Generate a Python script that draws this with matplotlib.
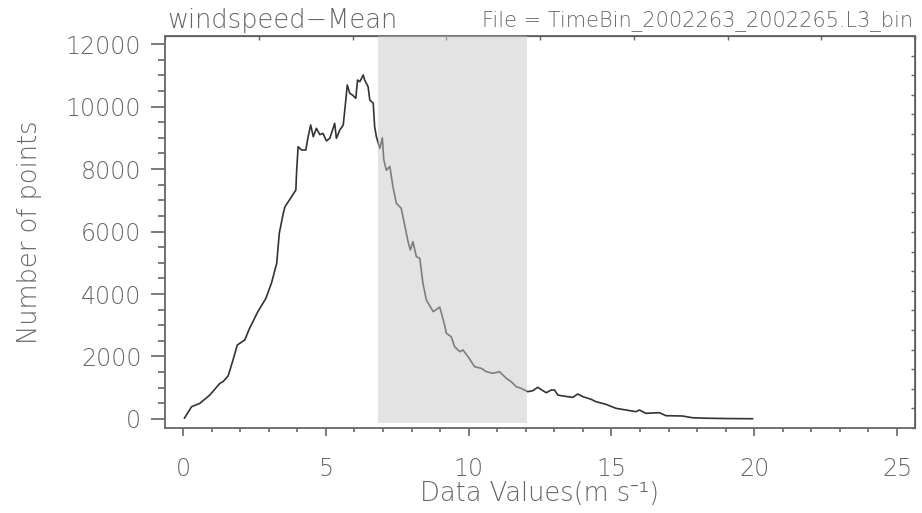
"""Histograma de windspeed-Mean (TimeBin_2002263_2002265.L3_bin)"""
import numpy as np
import matplotlib
matplotlib.use('Agg')
import matplotlib.pyplot as plt
from matplotlib.ticker import MultipleLocator

# valores
wind = [0.05, 0.30, 0.59, 0.94, 1.29, 1.40, 1.58, 1.75, 1.90, 2.16,
        2.33, 2.62, 2.90, 3.10, 3.28, 3.37, 3.51, 3.57, 3.80, 3.95,
        3.98, 4.03, 4.15, 4.30, 4.38, 4.47, 4.56, 4.67, 4.79, 4.90,
        5.02, 5.14, 5.31, 5.37, 5.49, 5.61, 5.70, 5.75, 5.84, 5.93,
        6.05, 6.11, 6.19, 6.31, 6.36, 6.48, 6.54, 6.66, 6.71, 6.77,
        6.89, 6.98, 7.03, 7.12, 7.24, 7.35, 7.47, 7.64, 7.76, 7.88,
        7.96, 8.05, 8.17, 8.29, 8.40, 8.52, 8.76, 8.99, 9.16, 9.22,
        9.39, 9.51, 9.69, 9.80, 9.98, 10.21, 10.44, 10.62, 10.85, 11.08,
        11.20, 11.32, 11.49, 11.67, 11.84, 12.07, 12.25, 12.42, 12.60, 12.72,
        12.89, 13.01, 13.12, 13.30, 13.65, 13.82, 14.00, 14.29, 14.46, 14.81,
        15.16, 15.51, 15.86, 15.98, 16.21, 16.68, 16.91, 17.49, 17.84, 18.30,
        19.00, 19.94]
counts = [30, 394, 502, 768, 1142, 1194, 1380, 1888, 2368, 2528,
          2902, 3434, 3860, 4360, 4982, 5942, 6582, 6794, 7114, 7328,
          7968, 8714, 8608, 8608, 9034, 9408, 9034, 9302, 9100, 9142,
          8900, 8982, 9462, 8982, 9248, 9408, 10208, 10688, 10422, 10368,
          10262, 10848, 10794, 11008, 10848, 10634, 10208, 10102, 9354, 9034,
          8662, 9000, 8288, 7960, 8084, 7434, 6902, 6742, 6208, 5674,
          5408, 5674, 5194, 5142, 4342, 3808, 3434, 3580, 3000, 2742,
          2634, 2314, 2154, 2208, 1994, 1674, 1622, 1514, 1462, 1514,
          1408, 1302, 1194, 1034, 982, 874, 906, 1014, 906, 842,
          928, 928, 768, 736, 694, 800, 714, 630, 554, 470,
          342, 288, 234, 288, 182, 202, 106, 96, 40, 25,
          15, 8]

# faixa sombreada
band = [6.82, 12.06]

x_ticks = [0, 5, 10, 15, 20, 25]
y_ticks = [0, 2000, 4000, 6000, 8000, 10000, 12000]

title = 'windspeed\u2212Mean'
file_label = 'File = TimeBin_2002263_2002265.L3_bin'
x_label = 'Data Values(m s\u207b\u00b9)'
y_label = 'Number of points'


def main():
    plt.rcParams['font.family'] = ['DejaVu Sans', 'Noto Sans']
    plt.rcParams['font.weight'] = 'light'
    plt.rcParams['axes.labelweight'] = 'light'
    txt = '#666666'
    axc = '#666666'

    fig = plt.figure(figsize=(9.22, 5.13), dpi=100)
    ax = fig.add_axes([0.179, 0.1657, 0.8134, 0.7641])

    ax.plot(wind, counts, color='#333333', lw=1.2, zorder=2)
    ax.axvspan(band[0], band[1], ymin=0.013, ymax=1, color='#c8c8c8',
               alpha=0.5, lw=0, zorder=3)

    ax.set_xlim(-0.63, 25.63)
    ax.set_ylim(-288, 12256)
    ax.set_xticks(x_ticks)
    ax.set_yticks(y_ticks)
    ax.xaxis.set_minor_locator(MultipleLocator(1))
    ax.yaxis.set_minor_locator(MultipleLocator(500))

    ax.tick_params(axis='x', which='major', direction='out', length=6,
                   width=1.2, color=axc, pad=15, labelsize=17, labelcolor=txt)
    ax.tick_params(axis='x', which='minor', direction='out', length=3,
                   width=1.2, color=axc)
    ax.tick_params(axis='y', which='major', direction='out', length=10,
                   width=1.2, color=axc, pad=7, labelsize=17, labelcolor=txt)
    ax.tick_params(axis='y', which='minor', direction='out', length=5,
                   width=1.2, color=axc)
    for s in ax.spines.values():
        s.set_color(axc)
        s.set_linewidth(1.3)

    # marcas pequenas no topo e à direita
    top = ax.secondary_xaxis('top', functions=(lambda v: (v + 0.63) / 26.26,
                                               lambda f: f * 26.26 - 0.63))
    top.set_xticks(np.arange(0, 9) / 8)
    top.tick_params(direction='in', length=3, width=1, color=axc,
                    labeltop=False)
    right = ax.secondary_yaxis('right', functions=(lambda v: (v + 288) / 12544,
                                                   lambda f: f * 12544 - 288))
    right.set_yticks(np.arange(0, 21) / 20)
    right.tick_params(direction='in', length=3, width=1, color=axc,
                      labelright=False)

    ax.set_xlabel(x_label, fontsize=18.5, color=txt, labelpad=0,
                  fontweight='light', family=['DejaVu Sans', 'Noto Sans'])
    ax.set_ylabel(y_label, fontsize=18.5, color=txt, labelpad=17,
                  fontweight='light')

    ax.text(0.003, 1.008, title, transform=ax.transAxes, fontsize=18.5,
            color=txt, ha='left', va='bottom')
    ax.text(0.998, 1.012, file_label, transform=ax.transAxes, fontsize=15,
            color=txt, ha='right', va='bottom')

    fig.savefig('out.png', dpi=100, facecolor='white')


if __name__ == '__main__':
    main()
